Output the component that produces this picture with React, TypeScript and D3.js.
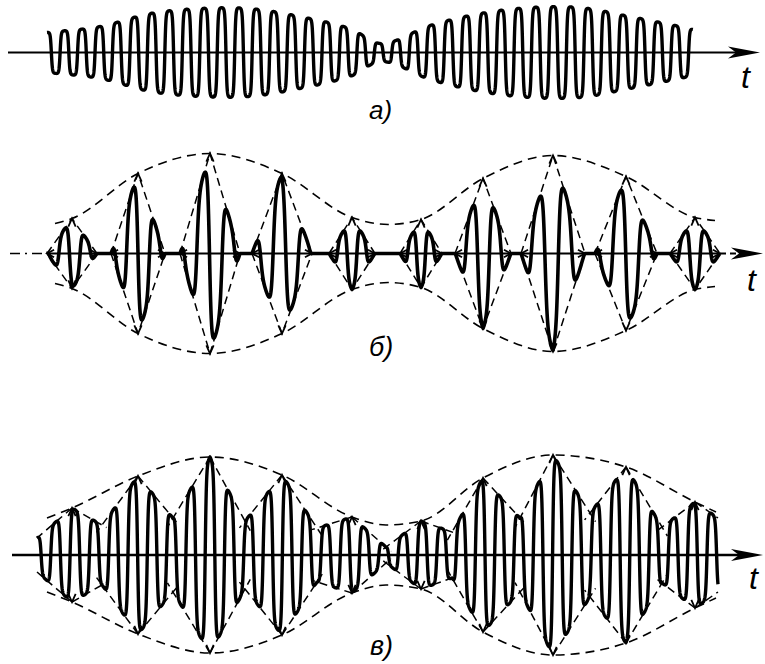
import React from 'react';
import * as d3 from 'd3';

const W = 765;
const H = 664;

// shared time axis (arbitrary units)
const T_DOMAIN: [number, number] = [0, 750];

// а) single-tone AM: envelope knots (time, amplitude)
const aEnvT = [39, 92, 142, 192, 242, 292, 342, 374, 422, 472, 522, 572, 622, 672, 685];
const aEnvA = [0.20, 0.26, 0.39, 0.44, 0.44, 0.36, 0.24, 0.09, 0.27, 0.39, 0.45, 0.45, 0.36, 0.26, 0.23];
const aCycles = 37;

// burst centres common to б) and в)
const burstT = [64, 130, 202, 274, 344, 413, 475, 545, 618, 687];

// б) burst peaks, half-widths and carrier phase (in periods)
const bApex = [0.35, 0.80, 1.00, 0.80, 0.36, 0.34, 0.75, 0.98, 0.77, 0.36];
const bHalf = [25, 27, 30, 30, 23, 21, 28, 32, 31, 25];
const bPhase = [-0.37, -0.25, -0.27, -0.1, -0.5, -0.5, -0.48, -0.55, -0.26, -0.5];
const bOuterExtraT = [47, 380, 707];
const bOuterExtraA = [0.30, 0.29, 0.33];

// в) peaks, cusps between them, trace ends
const vApex = [0.47, 0.79, 0.98, 0.80, 0.38, 0.34, 0.77, 1.00, 0.88, 0.53];
const vCuspT = [94, 165, 237, 309, 378, 444, 512, 582, 654];
const vCuspA = [0.30, 0.37, 0.34, 0.27, 0.08, 0.23, 0.37, 0.42, 0.28];
const vEndT = [29, 710];
const vEndA = [0.17, 0.37];
const vOuterExtraT = [39, 378, 708];
const vOuterExtraA = [0.37, 0.30, 0.43];
const vPeriod = 19.3;
const vPeakT = 202;

const AXIS_A = 52.5;
const AXIS_B = 253.5;
const AXIS_V = 555;
const AMP_PX = 100;

const FONT = "'Liberation Sans', 'DejaVu Sans', sans-serif";

type Pt = [number, number];

// smooth interpolation through knots (cubic Hermite, finite-difference slopes)
function hermite(xs: number[], ys: number[]) {
  const n = xs.length;
  const m = ys.map((_, i) => {
    if (i === 0) return (ys[1] - ys[0]) / (xs[1] - xs[0]);
    if (i === n - 1) return (ys[n - 1] - ys[n - 2]) / (xs[n - 1] - xs[n - 2]);
    return (ys[i + 1] - ys[i - 1]) / (xs[i + 1] - xs[i - 1]);
  });
  return (t: number) => {
    if (t <= xs[0]) return ys[0];
    if (t >= xs[n - 1]) return ys[n - 1];
    let i = d3.bisectRight(xs, t) - 1;
    if (i > n - 2) i = n - 2;
    const h = xs[i + 1] - xs[i];
    const s = (t - xs[i]) / h;
    const s2 = s * s;
    const s3 = s2 * s;
    return (2 * s3 - 3 * s2 + 1) * ys[i] + (s3 - 2 * s2 + s) * h * m[i] +
      (-2 * s3 + 3 * s2) * ys[i + 1] + (s3 - s2) * h * m[i + 1];
  };
}

// rounded square-ish carrier shape
const wave = (theta: number, k: number) => Math.tanh(k * Math.cos(theta)) / Math.tanh(k);

function sample(t0: number, t1: number, step: number, f: (t: number) => number): Pt[] {
  const pts: Pt[] = [];
  for (let t = t0; t <= t1 + 1e-9; t += step) pts.push([t, f(t)]);
  return pts;
}

function mergeKnots(t1: number[], a1: number[], t2: number[], a2: number[]): Pt[] {
  const pts: Pt[] = t1.map((t, i) => [t, a1[i]] as Pt).concat(t2.map((t, i) => [t, a2[i]] as Pt));
  return pts.sort((p, q) => p[0] - q[0]);
}

function chevron(vx: number, vy: number, dx: number, dy: number, len = 9, ang = 24) {
  const a = (ang * Math.PI) / 180;
  const bx = -dx, by = -dy;
  const r = (s: number) => [
    vx + len * (bx * Math.cos(s * a) - by * Math.sin(s * a)),
    vy + len * (bx * Math.sin(s * a) + by * Math.cos(s * a)),
  ];
  const [x1, y1] = r(1);
  const [x2, y2] = r(-1);
  return `M${x1},${y1}L${vx},${vy}L${x2},${y2}`;
}

function arrowHead(tipX: number, y: number) {
  return `M${tipX},${y}L${tipX - 32},${y - 6}L${tipX - 24},${y}L${tipX - 32},${y + 6}Z`;
}

export default function App() {
  const x = d3.scaleLinear().domain(T_DOMAIN).range([8, 758]);
  const yOf = (axis: number) => d3.scaleLinear().domain([-1, 1]).range([axis + AMP_PX, axis - AMP_PX]);
  const yA = yOf(AXIS_A);
  const yB = yOf(AXIS_B);
  const yV = yOf(AXIS_V);

  const lineFor = (y: d3.ScaleLinear<number, number>) =>
    d3.line<Pt>().x(d => x(d[0])).y(d => y(d[1]));
  const smoothFor = (y: d3.ScaleLinear<number, number>) =>
    d3.line<Pt>().x(d => x(d[0])).y(d => y(d[1])).curve(d3.curveMonotoneX);

  // а) carrier
  const aEnv = hermite(aEnvT, aEnvA);
  const aT0 = aEnvT[0];
  const aT1 = aEnvT[aEnvT.length - 1];
  const aPeriod = (aT1 - aT0) / aCycles;
  const aPath = lineFor(yA)(
    sample(aT0, aT1, 0.15, t => aEnv(t) * wave((2 * Math.PI * (t - aT0)) / aPeriod, 2.6))
  );

  // б) bursts
  const bSignal = (t: number) => {
    for (let k = 0; k < burstT.length; k++) {
      const d = t - burstT[k];
      const h = bHalf[k];
      if (Math.abs(d) < h) {
        const P = 0.85 * h;
        return bApex[k] * (1 - Math.abs(d) / h) * wave(2 * Math.PI * (d / P - bPhase[k]), 1.8);
      }
    }
    return 0;
  };
  const bStart = burstT[0] - bHalf[0];
  const bEnd = burstT[burstT.length - 1] + bHalf[bHalf.length - 1];
  const bPath = lineFor(yB)(sample(bStart, bEnd, 0.15, bSignal));
  const bOuter = mergeKnots(burstT, bApex, bOuterExtraT, bOuterExtraA);
  const bOuterTop = smoothFor(yB)(bOuter);
  const bOuterBot = smoothFor(yB)(bOuter.map(p => [p[0], -p[1]] as Pt));

  // в) combined trace
  const vKnots = mergeKnots(
    burstT.concat(vEndT),
    vApex.concat(vEndA),
    vCuspT,
    vCuspA
  );
  const vSub = d3.scaleLinear().domain(vKnots.map(p => p[0])).range(vKnots.map(p => p[1]));
  const vPath = lineFor(yV)(
    sample(vEndT[0], vEndT[1], 0.15, t => vSub(t) * wave((2 * Math.PI * (t - vPeakT)) / vPeriod, 2.4))
  );
  const vOuter = mergeKnots(burstT, vApex, vOuterExtraT, vOuterExtraA);
  const vOuterTop = smoothFor(yV)(vOuter);
  const vOuterBot = smoothFor(yV)(vOuter.map(p => [p[0], -p[1]] as Pt));

  // в) straight dashed guides from each peak towards neighbouring cusps
  const vGuides: string[] = [];
  const vArrows: string[] = [];
  burstT.forEach((c, k) => {
    const nbs: { t: number; a: number; ext: number }[] = [];
    if (k === 0) nbs.push({ t: vEndT[0], a: vEndA[0], ext: 0 });
    else nbs.push({ t: vCuspT[k - 1], a: vCuspA[k - 1], ext: 0.15 });
    if (k === burstT.length - 1) nbs.push({ t: vEndT[1], a: vEndA[1], ext: 0 });
    else nbs.push({ t: vCuspT[k], a: vCuspA[k], ext: 0.15 });
    [1, -1].forEach(sg => {
      const x0 = x(c), y0 = yV(sg * vApex[k]);
      nbs.forEach(nb => {
        const x1 = x(nb.t), y1 = yV(sg * nb.a);
        const x2 = x1 + (x1 - x0) * nb.ext, y2 = y1 + (y1 - y0) * nb.ext;
        vGuides.push(`M${x0},${y0}L${x2},${y2}`);
      });
      vArrows.push(chevron(x0, y0, 0, -sg));
    });
  });

  // б) dashed diamonds around each burst
  const bGuides: string[] = [];
  const bArrows: string[] = [];
  burstT.forEach((c, k) => {
    const xl = x(c - bHalf[k]), xr = x(c + bHalf[k]), xc = x(c);
    const yt = yB(bApex[k]), yb = yB(-bApex[k]);
    bGuides.push(`M${xl},${AXIS_B}L${xc},${yt}L${xr},${AXIS_B}`);
    bGuides.push(`M${xl},${AXIS_B}L${xc},${yb}L${xr},${AXIS_B}`);
    bArrows.push(chevron(xc, yt, 0, -1));
    bArrows.push(chevron(xc, yb, 0, 1));
    bArrows.push(chevron(xl, AXIS_B, -1, 0, 8, 28));
    bArrows.push(chevron(xr, AXIS_B, 1, 0, 8, 28));
  });

  const dash = '9 6';
  const label = (tx: number, ty: number, s: string, size: number) => (
    <text x={tx} y={ty} fontFamily={FONT} fontStyle="italic" fontSize={size} fill="#000">{s}</text>
  );

  return (
    <svg width={W} height={H} viewBox={`0 0 ${W} ${H}`}
      style={{ position: 'absolute', left: 0, top: 0, background: '#fff' }}>
      <rect x={0} y={0} width={W} height={H} fill="#fff" />

      {/* а) */}
      <line x1={8} y1={AXIS_A} x2={740} y2={AXIS_A} stroke="#000" strokeWidth={2} />
      <path d={arrowHead(760, AXIS_A)} fill="#000" />
      <path d={aPath ?? ''} fill="none" stroke="#000" strokeWidth={3.4} strokeLinejoin="round" />
      {label(741, 88, 't', 32)}
      {label(369, 119, 'а)', 26)}

      {/* б) */}
      <line x1={10} y1={AXIS_B} x2={x(bStart)} y2={AXIS_B} stroke="#000" strokeWidth={1.6} strokeDasharray="10 5 2 5" />
      <line x1={x(bStart)} y1={AXIS_B} x2={x(bEnd)} y2={AXIS_B} stroke="#000" strokeWidth={2.2} />
      <line x1={x(bEnd)} y1={AXIS_B} x2={742} y2={AXIS_B} stroke="#000" strokeWidth={1.8} strokeDasharray="6 4" />
      <path d={arrowHead(763, AXIS_B)} fill="#000" />
      <path d={bOuterTop ?? ''} fill="none" stroke="#000" strokeWidth={1.6} strokeDasharray={dash} />
      <path d={bOuterBot ?? ''} fill="none" stroke="#000" strokeWidth={1.6} strokeDasharray={dash} />
      {bGuides.map((d, i) => (
        <path key={`bg${i}`} d={d} fill="none" stroke="#000" strokeWidth={1.5} strokeDasharray="8 5" />
      ))}
      {bArrows.map((d, i) => (
        <path key={`ba${i}`} d={d} fill="none" stroke="#000" strokeWidth={1.8} />
      ))}
      <path d={bPath ?? ''} fill="none" stroke="#000" strokeWidth={3.6} strokeLinejoin="round" />
      {label(747, 291, 't', 32)}
      {label(369, 356, 'б)', 27)}

      {/* в) */}
      <line x1={12} y1={AXIS_V} x2={742} y2={AXIS_V} stroke="#000" strokeWidth={2.4} />
      <path d={arrowHead(763, AXIS_V)} fill="#000" />
      <path d={vOuterTop ?? ''} fill="none" stroke="#000" strokeWidth={1.6} strokeDasharray={dash} />
      <path d={vOuterBot ?? ''} fill="none" stroke="#000" strokeWidth={1.6} strokeDasharray={dash} />
      {vGuides.map((d, i) => (
        <path key={`vg${i}`} d={d} fill="none" stroke="#000" strokeWidth={1.5} strokeDasharray="8 5" />
      ))}
      {vArrows.map((d, i) => (
        <path key={`va${i}`} d={d} fill="none" stroke="#000" strokeWidth={1.8} />
      ))}
      <path d={vPath ?? ''} fill="none" stroke="#000" strokeWidth={3.4} strokeLinejoin="round" />
      {label(749, 589, 't', 32)}
      {label(370, 655, 'в)', 27)}
    </svg>
  );
}
